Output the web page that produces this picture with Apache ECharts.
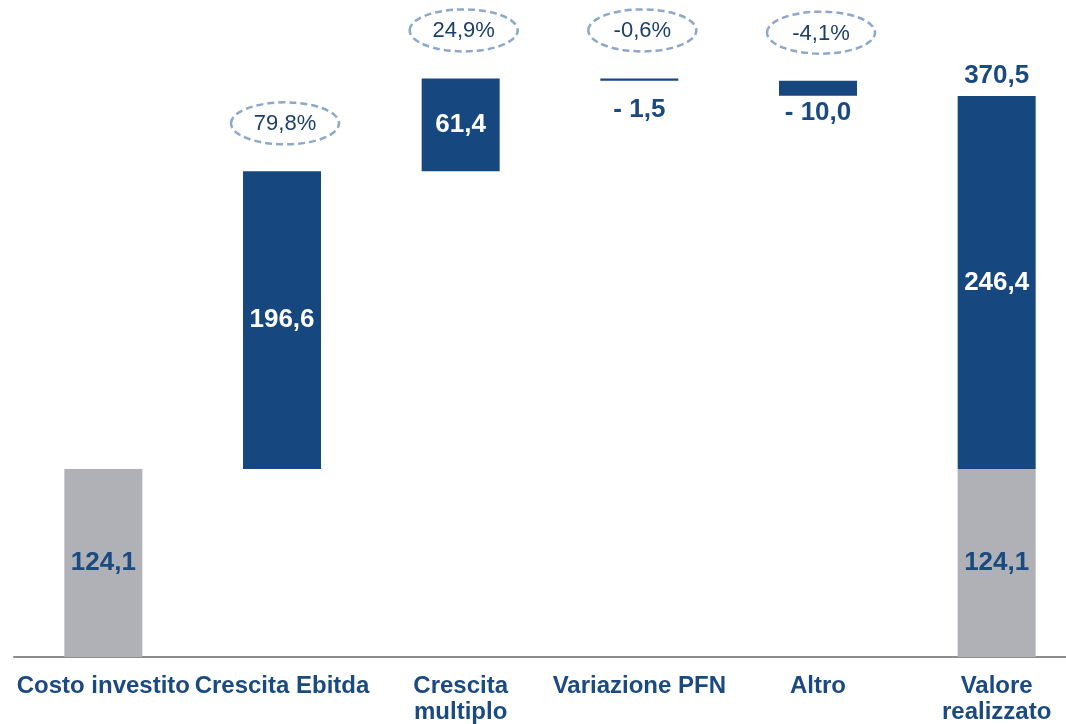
<!DOCTYPE html>
<html>
<head>
<meta charset="utf-8">
<script src="https://cdn.jsdelivr.net/npm/echarts@6/dist/echarts.min.js"></script>
<style>
    html, body { margin: 0; padding: 0; background: #ffffff; }
    #chart { width: 1066px; height: 724px; }
</style>
</head>
<body>
<div id="chart"></div>
<script>
    // dati
    var categories = ['Costo investito', 'Crescita Ebitda', 'Crescita\nmultiplo', 'Variazione PFN', 'Altro', 'Valore\nrealizzato']
    var startValue = 124.1
    var deltas = [196.6, 61.4, -1.5, -10.0]
    var finalGrey = 124.1
    var finalBlue = 246.4
    var finalTotal = 370.5
    var growthPct = ['79,8%', '24,9%', '-0,6%', '-4,1%']

    var BLUE = '#16477f'
    var GREY = '#b0b1b6'
    var TEXT_BLUE = '#1a4a80'
    var FONT = '"Liberation Sans", Arial, sans-serif'

    function fmt(v) {
        return v.toFixed(1).replace('.', ',')
    }

    // costruzione cascata
    var baseData = [0]
    var greyData = [startValue]
    var blueData = [{ value: 0, label: { show: false } }]
    var pctData = []
    var running = startValue
    deltas.forEach(function (d, i) {
        var low = d >= 0 ? running : running + d
        var high = d >= 0 ? running + d : running
        baseData.push(low)
        greyData.push({ value: 0, label: { show: false } })
        var item = { value: Math.abs(d) }
        if (d < 0) {
            item.label = {
                show: true,
                position: 'bottom',
                color: TEXT_BLUE,
                distance: Math.abs(d) < 5 ? 16 : 4,
                formatter: '- ' + fmt(Math.abs(d))
            }
        }
        blueData.push(item)
        pctData.push([i + 1, high, growthPct[i]])
        running += d
    })
    baseData.push(0)
    greyData.push(finalGrey)
    blueData.push(finalBlue)

    var chart = echarts.init(document.getElementById('chart'))
    var option = {
        animation: false,
        grid: { left: 14, width: 1072, top: 21, bottom: 67, outerBoundsMode: 'none', containLabel: false },
        xAxis: {
            type: 'category',
            data: categories,
            axisLine: { lineStyle: { color: '#8c8c8c', width: 2 } },
            axisTick: { show: false },
            axisLabel: {
                interval: 0,
                margin: 16,
                color: TEXT_BLUE,
                fontFamily: FONT,
                fontWeight: 'bold',
                fontSize: 24,
                lineHeight: 26
            }
        },
        yAxis: {
            type: 'value',
            min: 0,
            max: 420,
            show: false,
            splitLine: { show: false }
        },
        series: [{
            name: 'base',
            type: 'bar',
            stack: 'w',
            barWidth: 78,
            itemStyle: { color: 'transparent' },
            data: baseData,
            silent: true
        }, {
            name: 'grey',
            type: 'bar',
            stack: 'w',
            barWidth: 78,
            itemStyle: { color: GREY },
            label: {
                show: true,
                position: 'inside',
                color: TEXT_BLUE,
                fontFamily: FONT,
                fontWeight: 'bold',
                fontSize: 26,
                formatter: function (p) { return fmt(p.value) }
            },
            data: greyData
        }, {
            name: 'blue',
            type: 'bar',
            stack: 'w',
            barWidth: 78,
            itemStyle: { color: BLUE },
            label: {
                show: true,
                position: 'inside',
                color: '#ffffff',
                fontFamily: FONT,
                fontWeight: 'bold',
                fontSize: 26,
                formatter: function (p) { return fmt(p.value) }
            },
            data: blueData
        }, {
            name: 'totale',
            type: 'scatter',
            symbolSize: 0,
            itemStyle: { opacity: 1 },
            label: {
                show: true,
                position: 'top',
                distance: 7,
                color: TEXT_BLUE,
                fontFamily: FONT,
                fontWeight: 'bold',
                fontSize: 26,
                formatter: function () { return fmt(finalTotal) }
            },
            data: [[5, finalTotal]]
        }, {
            name: 'crescita',
            type: 'custom',
            clip: false,
            renderItem: function (params, api) {
                var pt = api.coord([api.value(0), api.value(1)])
                var cx = pt[0] + 3
                var cy = pt[1] - 48
                return {
                    type: 'group',
                    children: [{
                        type: 'ellipse',
                        shape: { cx: cx, cy: cy, rx: 54, ry: 21 },
                        style: {
                            fill: 'none',
                            stroke: '#8ea8ca',
                            lineWidth: 2.5,
                            lineDash: [7, 4]
                        }
                    }, {
                        type: 'text',
                        style: {
                            x: cx,
                            y: cy + 1,
                            text: pctData[params.dataIndex][2],
                            align: 'center',
                            verticalAlign: 'middle',
                            fill: '#1c3f69',
                            font: '22px ' + FONT
                        }
                    }]
                }
            },
            data: pctData
        }]
    }
    chart.setOption(option)

    window.addEventListener('resize', function () {
        chart.resize()
    })
</script>
</body>
</html>
